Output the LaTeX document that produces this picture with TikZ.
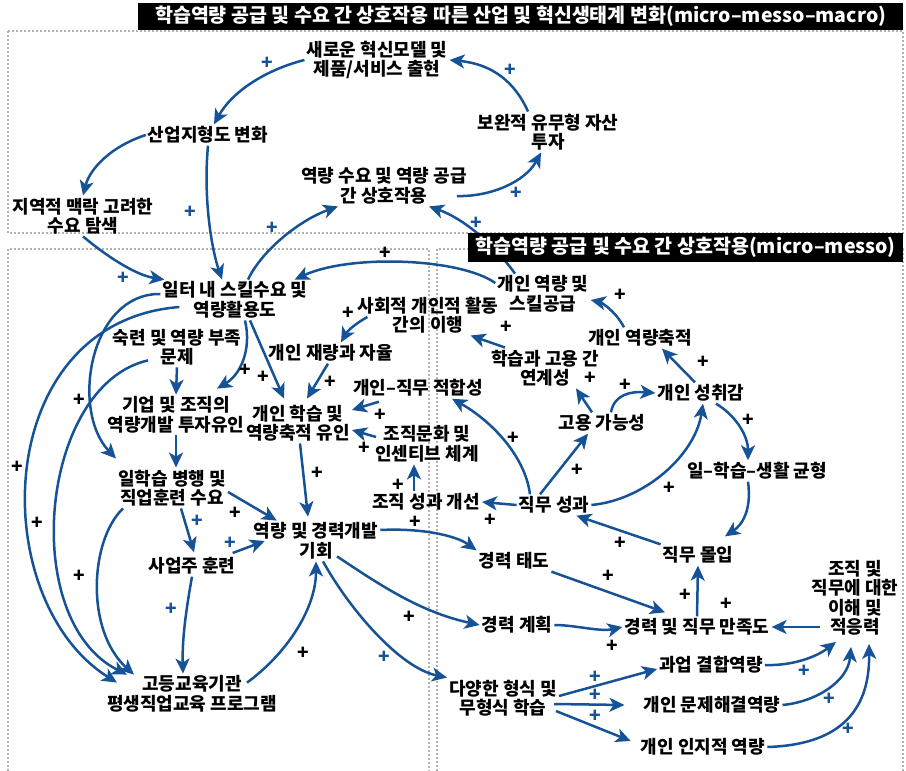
\documentclass[tikz,border=0pt]{standalone}
\usepackage{fontspec}
\setmainfont{Noto Sans CJK KR}
\usepackage{tikz}
\usetikzlibrary{arrows.meta}
\definecolor{linkblue}{RGB}{22,82,150}
\definecolor{boxgray}{RGB}{178,178,178}

\begin{document}
\begin{tikzpicture}[x=1pt,y=-1pt]
    \tikzstyle{lbl}=[align=center,inner sep=2pt,font=\bfseries\fontsize{18}{19.5}\selectfont]
    \tikzstyle{ttlbar}=[fill=black,text=white,inner sep=0pt,anchor=north west,font=\bfseries\fontsize{19.5}{19.5}\selectfont]
    \tikzstyle{lnk}=[draw=linkblue,line width=2.5pt,-{Stealth[length=15pt,width=14pt,inset=4pt]}]
    \tikzstyle{pls}=[inner sep=0pt,font=\bfseries\fontsize{19}{19}\selectfont]
    \tikzstyle{bpls}=[pls,text=linkblue]
    \tikzstyle{dotbox}=[draw=boxgray,line width=1.3pt,dash pattern=on 2pt off 2pt]
    \useasboundingbox (0,0) rectangle (906,771);
    \draw[dotbox] (8,31) rectangle (903,233);
    \draw[dotbox] (8,775) -- (8,249) -- (429,249) -- (429,775);
    \draw[dotbox] (437,775) -- (437,249) -- (903,249) -- (903,775);

    \node[lbl] (newmodel) at (377,60) {새로운 혁신모델 및\\제품/서비스 출현};
    \node[lbl] (compinv) at (548,132) {보완적 유무형 자산\\투자};
    \node[lbl] (indmap) at (208,135) {산업지형도 변화};
    \node[lbl] (interact) at (384,186) {역량 수요 및 역량 공급\\간 상호작용};
    \node[lbl] (regdemand) at (83,216) {지역적 맥락 고려한\\수요 탐색};

    \node[lbl] (workskill) at (235,300) {일터 내 스킬수요 및\\역량활용도};
    \node[lbl] (shortage) at (177,347) {숙련 및 역량 부족\\문제};
    \node[lbl] (discretion) at (331,353) {개인 재량과 자율};
    \node[lbl] (socialtr) at (428,315) {사회적 개인적 활동\\간의 이행};
    \node[lbl] (skillsup) at (543,294) {개인 역량 및\\스킬공급};
    \node[lbl] (firminv) at (176,415) {기업 및 조직의\\역량개발 투자유인};
    \node[lbl] (indlearn) at (298,423) {개인 학습 및\\역량축적 유인};
    \node[lbl] (jobfit) at (418,388) {개인–직무 적합성};
    \node[lbl] (orgculture) at (427,444) {조직문화 및\\인센티브 체계};
    \node[lbl] (linkage) at (545,368) {학습과 고용 간\\연계성};
    \node[lbl] (accum) at (640,338) {개인 역량축적};
    \node[lbl] (achieve) at (701,393) {개인 성취감};
    \node[lbl] (employ) at (602,423) {고용 가능성};
    \node[lbl] (balance) at (757,471) {일–학습–생활 균형};
    \node[lbl] (wlsdemand) at (172,488) {일학습 병행 및\\직업훈련 수요};
    \node[lbl] (orgperf) at (426,502) {조직 성과 개선};
    \node[lbl] (jobperf) at (554,505) {직무 성과};
    \node[lbl] (devopp) at (316,541) {역량 및 경력개발\\기회};
    \node[lbl] (emptrain) at (192,566) {사업주 훈련};
    \node[lbl] (engage) at (698,555) {직무 몰입};
    \node[lbl] (careatt) at (514,561) {경력 태도};
    \node[lbl] (adapt) at (855,598) {조직 및\\직무에 대한\\이해 및\\적응력};
    \node[lbl] (careplan) at (517,625) {경력 계획};
    \node[lbl] (satisf) at (697,627) {경력 및 직무 만족도};
    \node[lbl] (taskcomp) at (711,665) {과업 결합역량};
    \node[lbl] (divlearn) at (503,698) {다양한 형식 및\\무형식 학습};
    \node[lbl] (probsolve) at (712,705) {개인 문제해결역량};
    \node[lbl] (cognit) at (703,747) {개인 인지적 역량};
    \node[lbl] (higheredu) at (192,694) {고등교육기관\\평생직업교육 프로그램};

    \draw[lnk] (newmodel.west) .. controls (265,70) and (232,92) .. (indmap);
    \draw[lnk] ([xshift=-20pt]compinv.north) .. controls (515,82) and (492,64) .. (newmodel.east);
    \draw[lnk] (indmap.west) .. controls (112,146) and (90,168) .. (regdemand.north);
    \draw[lnk] ([xshift=-12pt,yshift=-10pt]interact.east) .. controls (490,197) and (525,182) .. ([xshift=-7pt]compinv.south);
    \draw[lnk] ([xshift=-28pt]skillsup.north) .. controls (492,242) and (462,218) .. ([xshift=45pt]interact.south);
    \draw[lnk] ([xshift=13pt]workskill.north) .. controls (262,250) and (300,220) .. ([xshift=-46pt]interact.south);
    \draw[lnk] (indmap.south) .. controls (203,200) and (212,250) .. ([xshift=-13pt]workskill.north);
    \draw[lnk] (regdemand.south) .. controls (105,255) and (135,275) .. ([xshift=4pt]workskill.north west);

    \draw[lnk] ([yshift=11pt]skillsup.west) .. controls (460,258) and (350,254) .. ([xshift=-15pt]workskill.north east);
    \draw[lnk] ([yshift=6pt]workskill.west) .. controls (90,293) and (70,410) .. ([yshift=9pt]wlsdemand.north west);
    \draw[lnk] ([xshift=19pt,yshift=-7pt]workskill.west) .. controls (-10,322) and (-15,600) .. ([xshift=12pt,yshift=-9pt]higheredu.north west);
    \draw[lnk] ([xshift=-29pt,yshift=7pt]shortage.south) .. controls (40,385) and (18,620) .. ([xshift=22pt,yshift=-1pt]higheredu.north west);
    \draw[lnk] ([xshift=-49pt]wlsdemand.south) .. controls (90,540) and (85,630) .. ([xshift=29pt,yshift=-1pt]higheredu.north west);
    \draw[lnk] (shortage.south) -- (firminv.north);
    \draw[lnk] ([xshift=10pt]workskill.south) .. controls (252,350) and (240,375) .. ([xshift=41pt,yshift=6pt]firminv.north);
    \draw[lnk] ([xshift=15pt]workskill.south) -- ([xshift=-14pt,yshift=4pt]indlearn.north);
    \draw[lnk] ([xshift=-3pt]discretion.south) -- ([xshift=9pt,yshift=4pt]indlearn.north);
    \draw[lnk] ([xshift=12pt,yshift=-2pt]socialtr.west) .. controls (358,322) and (348,330) .. ([xshift=10pt]discretion.north);
    \draw[lnk] ([xshift=28pt,yshift=-3pt]jobfit.south west) -- ([yshift=13pt]indlearn.east);
    \draw[lnk] ([xshift=3pt,yshift=7pt]orgculture.west) -- ([yshift=-7pt]indlearn.east);
    \draw[lnk] ([xshift=-12pt]orgperf.north) -- ([xshift=-13pt]orgculture.south);
    \draw[lnk] (firminv.south) -- ([xshift=4pt]wlsdemand.north);
    \draw[lnk] ([xshift=2pt]indlearn.south) -- ([xshift=-8pt,yshift=4pt]devopp.north);
    \draw[lnk] ([yshift=-4pt]wlsdemand.east) -- ([xshift=25pt]devopp.north west);
    \draw[lnk] ([xshift=9pt]wlsdemand.south) -- ([xshift=2pt,yshift=3pt]emptrain.north);
    \draw[lnk] ([xshift=-5pt,yshift=13pt]emptrain.east) -- ([xshift=13pt]devopp.west);
    \draw[lnk] (emptrain.south) .. controls (186,610) and (182,640) .. ([xshift=-9pt]higheredu.north);
    \draw[lnk] ([xshift=55pt,yshift=-9pt]higheredu.north) .. controls (285,655) and (316,610) .. (devopp.south);
    \draw[lnk] ([yshift=11pt]devopp.east) .. controls (420,528) and (455,535) .. (careatt.north west);
    \draw[lnk] ([xshift=21pt,yshift=5pt]devopp.south) .. controls (380,585) and (420,612) .. (careplan.west);
    \draw[lnk] ([xshift=7pt]devopp.south) .. controls (350,610) and (400,668) .. (divlearn.north west);

    \draw[lnk] ([xshift=-24pt]jobperf.north) .. controls (525,455) and (490,420) .. ([xshift=34pt]jobfit.south);
    \draw[lnk] ([xshift=-14pt]jobperf.north) -- ([xshift=-14pt]employ.south);
    \draw[lnk] (jobperf.east) .. controls (645,500) and (695,455) .. ([xshift=2pt]achieve.south);
    \draw[lnk] (jobperf.west) -- (orgperf.east);
    \draw[lnk] ([xshift=-10pt]employ.north) -- ([xshift=31pt]linkage.south);
    \draw[lnk] ([xshift=9pt]employ.north) .. controls (614,395) and (630,391) .. (achieve.west);
    \draw[lnk] ([xshift=16pt]linkage.north west) -- ([xshift=-30pt]socialtr.south east);
    \draw[lnk] ([xshift=-16pt]accum.north) .. controls (615,310) and (600,302) .. ([yshift=-6pt]skillsup.east);
    \draw[lnk] ([xshift=-6pt]achieve.north) -- ([xshift=22pt]accum.south);
    \draw[lnk] ([xshift=15pt]achieve.south) .. controls (735,415) and (748,435) .. ([xshift=-9pt]balance.north);
    \draw[lnk] ([xshift=-9pt]balance.south) .. controls (752,510) and (742,525) .. ([xshift=27pt,yshift=8pt]engage.north);
    \draw[lnk] (engage.north west) -- ([xshift=-15pt]jobperf.south east);
    \draw[lnk] (careatt.south east) -- ([xshift=-32pt,yshift=4pt]satisf.north);
    \draw[lnk] (satisf.north) -- (engage.south);
    \draw[lnk] (careplan.east) .. controls (575,625) and (600,632) .. (satisf.west);
    \draw[lnk] ([xshift=11pt,yshift=-29pt]adapt.west) -- (satisf.east);
    \draw[lnk] ([yshift=2pt]divlearn.east) -- ([yshift=-4pt]taskcomp.west);
    \draw[lnk] ([xshift=-5pt,yshift=-6pt]divlearn.east) -- ([xshift=-17pt]probsolve.west);
    \draw[lnk] ([xshift=-3pt,yshift=-13pt]divlearn.east) -- ([xshift=-8pt,yshift=6pt]cognit.west);
    \draw[lnk] (taskcomp.east) .. controls (790,666) and (815,658) .. ([xshift=-19pt,yshift=-4pt]adapt.south);
    \draw[lnk] (probsolve.east) .. controls (815,702) and (848,682) .. ([xshift=-4pt,yshift=-9pt]adapt.south);
    \draw[lnk] (cognit.east) .. controls (835,745) and (870,715) .. ([xshift=14pt,yshift=-6pt]adapt.south);

    \foreach \px/\py [count=\k] in {267/63,510/70,516/193,476/223,272/228,190/212,123/278,197/521,230/543,171/609,384/657,595/677,595/695,595/716,804/671,829/699,848/729}
      \node[bpls] (bp\k) at (\px,\py) {+};
    \foreach \px/\py [count=\k] in {385/253,79/400,17/467,37/523,79/576,245/370,263/377,330/382,348/313,380/415,364/448,398/485,317/473,235/513,303/653,415/522,409/617,513/438,577/470,669/488,490/520,590/378,625/385,506/327,620/295,703/362,748/420,620/543,608/576,685/595,726/604,612/646}
      \node[pls] (kp\k) at (\px,\py) {+};

    \node[ttlbar,minimum width=765pt,minimum height=27pt] (macrobar) at (138,3) {학습역량 공급 및 수요 간 상호작용 따른 산업 및 혁신생태계 변화(micro–messo–macro)};
    \node[ttlbar,minimum width=435pt,minimum height=29pt] (messobar) at (468,233) {학습역량 공급 및 수요 간 상호작용(micro–messo)};
  \end{tikzpicture}
\end{document}
